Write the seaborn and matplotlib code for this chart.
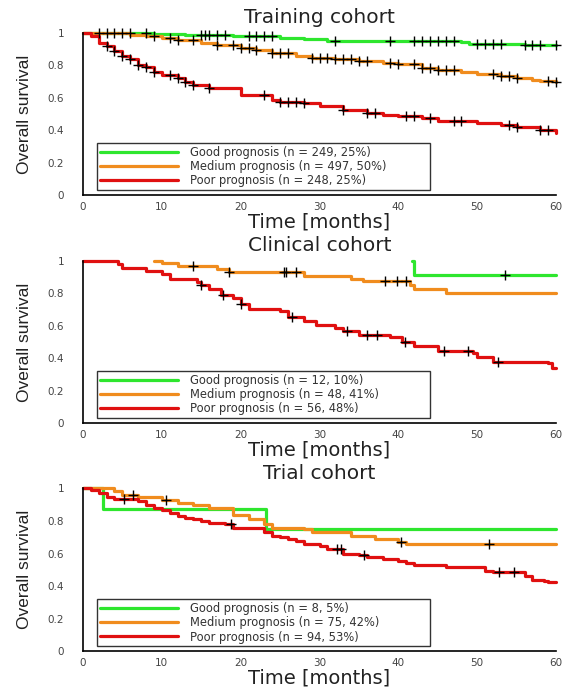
import numpy as np
import matplotlib
matplotlib.use("Agg")
import matplotlib.pyplot as plt
import seaborn as sns

# ---- data: Kaplan-Meier steps (time of event, survival after event) and censor times ----
panel_titles = ["Training cohort", "Clinical cohort", "Trial cohort"]
group_names = ["Good prognosis", "Medium prognosis", "Poor prognosis"]

train_counts = ["n = 249, 25%", "n = 497, 50%", "n = 248, 25%"]
clin_counts = ["n = 12, 10%", "n = 48, 41%", "n = 56, 48%"]
trial_counts = ["n = 8, 5%", "n = 75, 42%", "n = 94, 53%"]

# Training cohort
train_good_t = [0, 9, 13, 19, 25, 28, 31, 48, 49, 56, 60]
train_good_s = [1.0, 0.995, 0.99, 0.98, 0.97, 0.96, 0.952, 0.945, 0.935, 0.928, 0.928]
train_good_cens = [2, 3, 4, 5, 6, 8, 15, 15.5, 16, 17, 18, 21, 22, 23, 24, 32, 39,
                   42, 43, 44, 45, 46, 47, 50, 51, 52, 53, 56, 57, 58, 60]

train_med_t = [0, 6, 8, 10, 12, 15, 17, 20, 22, 24, 27, 29, 32, 35, 38, 40, 43, 45,
               48, 50, 53, 55, 57, 58, 60]
train_med_s = [1.0, 0.99, 0.98, 0.97, 0.955, 0.94, 0.925, 0.91, 0.895, 0.876, 0.86,
               0.847, 0.84, 0.83, 0.815, 0.806, 0.785, 0.77, 0.76, 0.75, 0.735,
               0.72, 0.712, 0.705, 0.70]
train_med_cens = [9, 11, 12, 14, 17, 19, 20, 21, 22, 24, 25, 26, 29, 30, 31, 32, 33,
                  34, 35, 36, 39, 40, 42, 43, 44, 45, 46, 47, 52, 53, 54, 55, 59, 60]

train_poor_t = [0, 1, 2, 3, 4, 5, 6, 7, 8, 9, 10, 12, 13, 14, 16, 20, 23.5, 24, 25,
                28, 30, 33, 36, 38, 40, 43, 45, 48, 50, 53, 55, 58, 60]
train_poor_s = [1.0, 0.98, 0.94, 0.92, 0.89, 0.86, 0.84, 0.80, 0.79, 0.76, 0.74, 0.72,
                0.70, 0.68, 0.66, 0.62, 0.617, 0.587, 0.576, 0.57, 0.55, 0.525, 0.505,
                0.495, 0.485, 0.475, 0.46, 0.455, 0.445, 0.43, 0.42, 0.40, 0.385]
train_poor_cens = [3, 4, 5, 6, 7, 8, 9, 11, 12, 13, 14, 16, 23, 25, 26, 27, 28, 33,
                   36, 37, 41, 42, 44, 47, 48, 54, 55, 58, 59]

# Clinical cohort
clin_good_t = [41.7, 42, 60]
clin_good_s = [1.0, 0.917, 0.917]
clin_good_cens = [53.5]

clin_med_t = [9, 10, 12, 17, 18.5, 28, 34, 35.5, 41.5, 42, 46, 60]
clin_med_s = [1.0, 0.985, 0.969, 0.95, 0.93, 0.91, 0.89, 0.874, 0.85, 0.83, 0.80, 0.80]
clin_med_cens = [14, 18.5, 25.5, 25.8, 27, 38.3, 39.8, 41]

clin_poor_t = [0, 4.5, 5, 8, 10, 11, 14.5, 15, 16, 17.5, 19, 20, 21, 25, 26, 28, 29.5,
               32, 33, 35, 39, 40.5, 42, 45, 49.5, 50, 52, 59, 59.5, 60]
clin_poor_s = [1.0, 0.98, 0.96, 0.94, 0.92, 0.89, 0.87, 0.85, 0.83, 0.79, 0.77, 0.736,
               0.705, 0.69, 0.654, 0.633, 0.608, 0.585, 0.567, 0.544, 0.53, 0.50,
               0.478, 0.447, 0.43, 0.406, 0.375, 0.37, 0.338, 0.338]
clin_poor_cens = [15, 17.8, 20, 26.5, 33.5, 36, 37.3, 40.8, 45.8, 48.8, 52.6]

# Trial cohort
trial_good_t = [0, 2.5, 23.2, 60]
trial_good_s = [1.0, 0.875, 0.75, 0.75]
trial_good_cens = []

trial_med_t = [0, 4, 5, 7, 10, 12, 14, 16, 19, 21, 23, 24, 28, 29, 34, 37, 40, 41, 60]
trial_med_s = [1.0, 0.987, 0.96, 0.95, 0.93, 0.91, 0.90, 0.88, 0.84, 0.81, 0.78, 0.76,
               0.75, 0.73, 0.71, 0.69, 0.67, 0.658, 0.658]
trial_med_cens = [6.3, 10.5, 40.3, 51.5]

trial_poor_t = [0, 1, 2, 3, 4, 7, 8, 9, 10, 11, 12, 13, 14, 15, 16, 18, 19, 23, 24, 25,
                26, 27, 28, 30, 31, 33, 35, 36, 38, 40, 41, 42, 46, 50, 51, 52, 56, 57,
                58.5, 59, 60]
trial_poor_s = [1.0, 0.99, 0.97, 0.95, 0.935, 0.92, 0.90, 0.88, 0.865, 0.85, 0.83, 0.82,
                0.81, 0.80, 0.79, 0.78, 0.756, 0.73, 0.71, 0.70, 0.69, 0.68, 0.66, 0.645,
                0.627, 0.60, 0.59, 0.576, 0.565, 0.556, 0.545, 0.53, 0.52, 0.515, 0.495,
                0.485, 0.46, 0.44, 0.434, 0.428, 0.428]
trial_poor_cens = [5.2, 18.8, 32.2, 32.7, 35.7, 52.8, 54.7]

panels = [
    (train_counts, [(train_good_t, train_good_s, train_good_cens),
                    (train_med_t, train_med_s, train_med_cens),
                    (train_poor_t, train_poor_s, train_poor_cens)]),
    (clin_counts, [(clin_good_t, clin_good_s, clin_good_cens),
                   (clin_med_t, clin_med_s, clin_med_cens),
                   (clin_poor_t, clin_poor_s, clin_poor_cens)]),
    (trial_counts, [(trial_good_t, trial_good_s, trial_good_cens),
                    (trial_med_t, trial_med_s, trial_med_cens),
                    (trial_poor_t, trial_poor_s, trial_poor_cens)]),
]

colors = ["#2ee62e", "#f08c1e", "#e01010"]

sns.set_style("white")
plt.rcParams["font.family"] = ["DejaVu Sans"]

fig = plt.figure(figsize=(5.64, 6.87), dpi=100)
axes_boxes = [(0.147, 0.716, 0.839, 0.236),
              (0.147, 0.384, 0.839, 0.236),
              (0.147, 0.052, 0.839, 0.237)]

for title, box, (counts, curves) in zip(panel_titles, axes_boxes, panels):
    ax = fig.add_axes(box)
    for name, cnt, col, (t, s, cens) in zip(group_names, counts, colors, curves):
        sns.lineplot(x=t, y=s, ax=ax, color=col, linewidth=2.3, drawstyle="steps-post",
                     estimator=None, sort=False, clip_on=False,
                     label=f"{name} ({cnt})")
        if len(cens):
            tt = np.asarray(t, dtype=float)
            ss = np.asarray(s, dtype=float)
            idx = np.searchsorted(tt, cens, side="right") - 1
            sns.scatterplot(x=cens, y=ss[idx], ax=ax, marker="+", color="black",
                            s=60, linewidth=1.0, zorder=5, clip_on=False, legend=False)

    ax.set_xlim(0, 60)
    ax.set_ylim(0, 1)
    ax.set_xticks(range(0, 61, 10))
    ax.set_yticks([0, 0.2, 0.4, 0.6, 0.8, 1.0])
    ax.set_yticklabels(["0", "0.2", "0.4", "0.6", "0.8", "1"])
    ax.tick_params(axis="both", labelsize=7.5, length=3, width=1, direction="inout",
                   color="black", labelcolor="#444444")
    ax.tick_params(axis="y", pad=12)
    ax.tick_params(axis="x", pad=3.5)
    for side in ["top", "right"]:
        ax.spines[side].set_visible(False)
    for side in ["left", "bottom"]:
        ax.spines[side].set_color("black")
        ax.spines[side].set_linewidth(1.2)

    ax.set_title(title, fontsize=14.5, pad=7, color="#222222")
    ax.set_xlabel("Time [months]", fontsize=14, labelpad=0, color="#222222")
    ax.set_ylabel("Overall survival", fontsize=12.5, labelpad=11, color="#222222",
                  family=["Liberation Sans", "DejaVu Sans"])

    leg = ax.legend(loc="lower left", bbox_to_anchor=(0.03, 0.03, 0.703, 0.297),
                    mode="expand", fontsize=8.3, frameon=True, fancybox=False,
                    handlelength=6.8, handletextpad=1.0, borderpad=0.25,
                    labelspacing=0.12, borderaxespad=0)
    leg.get_frame().set_edgecolor("black")
    leg.get_frame().set_linewidth(1.0)
    for txt in leg.get_texts():
        txt.set_color("#333333")

fig.savefig("out.png", dpi=100)
